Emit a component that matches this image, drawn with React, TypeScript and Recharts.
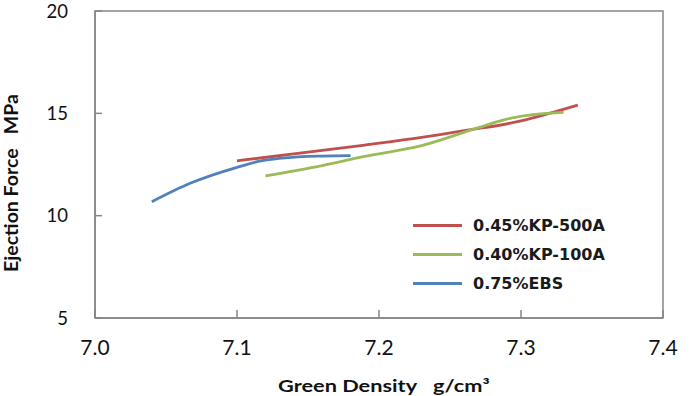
import { LineChart, Line, XAxis, YAxis, ReferenceArea, Label } from 'recharts'

// 0.45%KP-500A
const kp500Density = [7.1, 7.15, 7.19, 7.23, 7.26, 7.3, 7.32, 7.34]
const kp500Force = [12.68, 13.1, 13.45, 13.82, 14.15, 14.63, 15.0, 15.4]
// 0.40%KP-100A
const kp100Density = [7.12, 7.16, 7.19, 7.23, 7.27, 7.29, 7.31, 7.33]
const kp100Force = [11.94, 12.45, 12.9, 13.42, 14.3, 14.72, 14.95, 15.05]
// 0.75%EBS
const ebsDensity = [7.04, 7.067, 7.1, 7.116, 7.137, 7.16, 7.18]
const ebsForce = [10.68, 11.58, 12.36, 12.66, 12.84, 12.91, 12.93]

const xTicks = [7.0, 7.1, 7.2, 7.3, 7.4]
const yTicks = [5, 10, 15, 20]

const series = [
  { name: '0.45%KP-500A', color: '#C0504D', xs: kp500Density, ys: kp500Force },
  { name: '0.40%KP-100A', color: '#9BBB59', xs: kp100Density, ys: kp100Force },
  { name: '0.75%EBS', color: '#4F81BD', xs: ebsDensity, ys: ebsForce },
]

const toPoints = (xs: number[], ys: number[]) => xs.map((x, i) => ({ x, y: ys[i] }))

const axisGray = '#868686'
const X_MARGIN = 22
const Y_MARGIN = 27

// ticks point into the plot, like the Excel original
function XTick(props: any) {
  const { x, y, payload } = props
  const axisY = y - X_MARGIN
  return (
    <g>
      <line x1={x} x2={x} y1={axisY} y2={axisY - 8} stroke={axisGray} strokeWidth={1.5} />
      <text x={x} y={y} dy="0.71em" textAnchor="middle" fontFamily="Lato" fontSize={21} fill="#111">
        {Number(payload.value).toFixed(1)}
      </text>
    </g>
  )
}

function YTick(props: any) {
  const { x, y, payload } = props
  const axisX = x + Y_MARGIN
  return (
    <g>
      <line x1={axisX} x2={axisX + 7} y1={y} y2={y} stroke={axisGray} strokeWidth={1.5} />
      <text x={x} y={y} dy="0.355em" textAnchor="end" fontFamily="Lato" fontSize={18.5} fill="#111">
        {payload.value}
      </text>
    </g>
  )
}

function LegendBox() {
  return (
    <div
      style={{
        position: 'absolute',
        left: 413,
        top: 211,
        fontFamily: 'DejaVu Sans',
        fontWeight: 'bold',
        fontSize: 16,
        color: '#1a1a1a',
      }}
    >
      {series.map((s) => (
        <div key={s.name} style={{ display: 'flex', alignItems: 'center', height: 29 }}>
          <div style={{ width: 49, height: 3, background: s.color, marginRight: 11 }} />
          <span>{s.name}</span>
        </div>
      ))}
    </div>
  )
}

export default function App() {
  return (
    <div style={{ position: 'absolute', left: 0, top: 0, width: 690, height: 396, background: '#fff' }}>
      <LineChart width={690} height={396} margin={{ top: 11, right: 27, left: 0, bottom: 0 }}>
        <XAxis
          type="number"
          dataKey="x"
          domain={[7.0, 7.4]}
          ticks={xTicks}
          height={78}
          stroke={axisGray}
          strokeWidth={1.5}
          tickLine={false}
          tickSize={0}
          tickMargin={X_MARGIN}
          tick={<XTick />}
          allowDataOverflow
        >
          <Label
            content={() => (
              <text
                transform="translate(278 392) scale(1.28 1)"
                textAnchor="start"
                style={{ fontFamily: 'Lato', fontWeight: 'bold', fontSize: 17, fill: '#111' }}
              >
                Green Density
                <tspan dx={12.5}>g/cm³</tspan>
              </text>
            )}
          />
        </XAxis>
        <YAxis
          type="number"
          dataKey="y"
          domain={[5, 20]}
          ticks={yTicks}
          width={95}
          stroke={axisGray}
          strokeWidth={1.5}
          tickLine={false}
          tickSize={0}
          tickMargin={Y_MARGIN}
          tick={<YTick />}
          allowDataOverflow
        >
          <Label
            content={() => (
              <text
                x={10}
                y={183}
                transform="rotate(-90 10 183)"
                textAnchor="middle"
                dominantBaseline="central"
                style={{ whiteSpace: 'pre', fontFamily: 'Lato', fontWeight: 'bold', fontSize: 19.5, fill: '#111' }}
              >
                Ejection Force   MPa
              </text>
            )}
          />
        </YAxis>
        <ReferenceArea x1={7.0} x2={7.4} y1={5} y2={20} fill="none" stroke={axisGray} strokeWidth={1.5} />
        {series.map((s) => (
          <Line
            key={s.name}
            data={toPoints(s.xs, s.ys)}
            dataKey="y"
            name={s.name}
            type="monotone"
            stroke={s.color}
            strokeWidth={2.8}
            dot={false}
            activeDot={false}
            isAnimationActive={false}
          />
        ))}
      </LineChart>
      <LegendBox />
    </div>
  )
}
